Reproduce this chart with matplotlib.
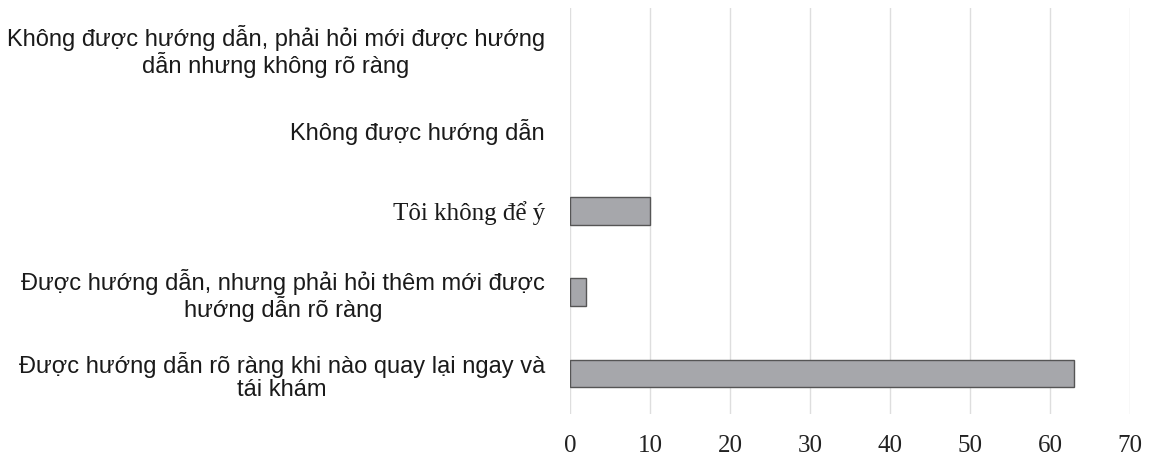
import matplotlib
matplotlib.use("Agg")
import matplotlib.pyplot as plt

categories = [
    "Được hướng dẫn rõ ràng khi nào quay lại ngay và\ntái khám",
    "Được hướng dẫn, nhưng phải hỏi thêm mới được\nhướng dẫn rõ ràng",
    "Tôi không để ý",
    "Không được hướng dẫn",
    "Không được hướng dẫn, phải hỏi mới được hướng\ndẫn nhưng không rõ ràng",
]
values = [63, 2, 10, 0, 0]
xticks = [0, 10, 20, 30, 40, 50, 60, 70]

fig = plt.figure(figsize=(11.55, 4.59), dpi=100)
ax = fig.add_axes([570/1155, 1 - 414/459, 560/1155, 406/459])

ypos = list(range(len(categories)))
bars = ax.barh(ypos, values, height=0.34, color="#a6a7ab", edgecolor="#555555", linewidth=1.0, zorder=3)
for b, v in zip(bars, values):
    if v == 0:
        b.set_linewidth(0)
ax.set_xlim(0, 70)
ax.set_ylim(-0.5, len(categories) - 0.5)
ax.set_xticks(xticks)
ax.set_xticklabels([str(t) for t in xticks], family="Liberation Serif", fontsize=18, color="#222222")
ax.set_yticks(ypos)
ax.set_yticklabels(categories, family="Liberation Sans", fontsize=17, color="#1a1a1a",
                   multialignment="center", linespacing=1.05)
for lbl in ax.get_yticklabels():
    if lbl.get_text() == "Tôi không để ý":
        lbl.set_family("Liberation Serif")
        lbl.set_fontsize(18)
ax.tick_params(axis="both", length=0)
ax.tick_params(axis="y", pad=18)
ax.tick_params(axis="x", pad=15)
ax.grid(axis="x", color="#dedede", linewidth=1.0, zorder=0)
for s in ax.spines.values():
    s.set_visible(False)

fig.savefig("out.png", dpi=100)
